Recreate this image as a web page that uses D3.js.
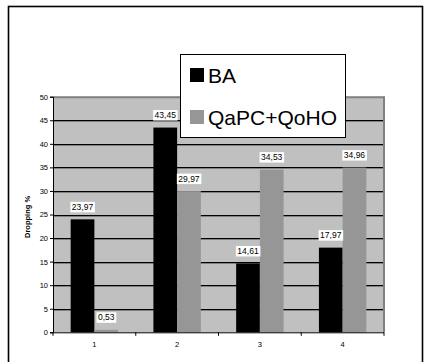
<!DOCTYPE html>
<html>
<head>
<meta charset="utf-8">
<script src="https://cdn.jsdelivr.net/npm/d3@7"></script>
<style>
  body { margin: 0; background: #fff; }
  text { font-family: "Liberation Sans", Arial, sans-serif; }
</style>
</head>
<body>
<svg width="429" height="362"></svg>
<script>
// data
const categories = ["1", "2", "3", "4"];
const seriesNames = ["BA", "QaPC+QoHO"];
const baValues = [23.97, 43.45, 14.61, 17.97];
const qapcValues = [0.53, 29.97, 34.53, 34.96];
const yTicks = [0, 5, 10, 15, 20, 25, 30, 35, 40, 45, 50];
const colors = ["#000000", "#969696"];

const svg = d3.select("svg"),
  width = +svg.attr("width"),
  height = +svg.attr("height");

const plot = { left: 53, right: 384, top: 96.7, bottom: 332.3 };

// outer frame (bottom edge runs off the picture)
svg.append("rect")
  .attr("x", 8.5).attr("y", 6.5)
  .attr("width", 414).attr("height", 370)
  .attr("fill", "none")
  .attr("stroke", "#000")
  .attr("stroke-width", 1.6);

const y = d3.scaleLinear().domain([0, 50]).range([plot.bottom, plot.top]);

const x0 = d3.scaleBand()
  .domain(categories)
  .range([plot.left, plot.right])
  .paddingInner(0.427)
  .paddingOuter(0.2135);

const x1 = d3.scaleBand()
  .domain(seriesNames)
  .range([0, x0.bandwidth()]);

// plot background
svg.append("rect")
  .attr("x", plot.left).attr("y", plot.top)
  .attr("width", plot.right - plot.left)
  .attr("height", plot.bottom - plot.top)
  .attr("fill", "#c0c0c0");

// gridlines (black line with grey shadow)
const grid = svg.append("g");
yTicks.filter(d => d > 0 && d < 50).forEach(d => {
  grid.append("line")
    .attr("x1", plot.left).attr("x2", plot.right)
    .attr("y1", Math.round(y(d)) + 0.5).attr("y2", Math.round(y(d)) + 0.5)
    .attr("stroke", "#000");
  grid.append("line")
    .attr("x1", plot.left).attr("x2", plot.right)
    .attr("y1", Math.round(y(d)) + 1.5).attr("y2", Math.round(y(d)) + 1.5)
    .attr("stroke", "#808080");
});

// top and right plot edges
svg.append("line")
  .attr("x1", plot.left).attr("x2", plot.right + 1)
  .attr("y1", plot.top + 0.5).attr("y2", plot.top + 0.5)
  .attr("stroke", "#808080").attr("stroke-width", 2);
svg.append("line")
  .attr("x1", plot.right).attr("x2", plot.right)
  .attr("y1", plot.top).attr("y2", plot.bottom)
  .attr("stroke", "#808080").attr("stroke-width", 2);

// bars
const rows = categories.map((c, i) => ({ cat: c, values: [baValues[i], qapcValues[i]] }));

const groups = svg.append("g").selectAll("g")
  .data(rows)
  .enter().append("g")
  .attr("transform", d => "translate(" + x0(d.cat) + ",0)");

groups.selectAll("rect")
  .data(d => d.values.map((v, j) => ({ name: seriesNames[j], value: v, j: j })))
  .enter().append("rect")
  .attr("x", d => x1(d.name))
  .attr("y", d => y(d.value))
  .attr("width", x1.bandwidth())
  .attr("height", d => y(0) - y(d.value))
  .attr("fill", d => colors[d.j]);

// axes
const yAxis = d3.axisLeft(y).tickValues(yTicks).tickSize(3).tickPadding(2);
const gy = svg.append("g")
  .attr("transform", "translate(" + plot.left + ",0)")
  .call(yAxis);
gy.select(".domain").attr("stroke", "#000");
gy.selectAll("text").style("font-size", "7.5px").attr("fill", "#000");

// x axis line + ticks at category boundaries
const boundaries = categories.map(c => x0(c) - x0.step() * 0.2135).concat([plot.right]);
svg.append("line")
  .attr("x1", plot.left).attr("x2", plot.right)
  .attr("y1", plot.bottom + 0.5).attr("y2", plot.bottom + 0.5)
  .attr("stroke", "#000");
svg.append("g").selectAll("line")
  .data(boundaries)
  .enter().append("line")
  .attr("x1", d => d).attr("x2", d => d)
  .attr("y1", plot.bottom).attr("y2", plot.bottom + 3.5)
  .attr("stroke", "#000");

svg.append("g").selectAll("text")
  .data(categories)
  .enter().append("text")
  .attr("x", d => x0(d) + x0.bandwidth() / 2)
  .attr("y", 347)
  .attr("text-anchor", "middle")
  .style("font-size", "7.5px")
  .text(d => d);

// y axis title
svg.append("text")
  .attr("transform", "translate(30,217) rotate(-90)")
  .attr("text-anchor", "middle")
  .style("font-size", "7.5px")
  .style("font-weight", "bold")
  .text("Dropping %");

// value labels
const labels = groups.selectAll("g.lab")
  .data(d => d.values.map((v, j) => ({ name: seriesNames[j], value: v })))
  .enter().append("g")
  .attr("class", "lab");

labels.each(function(d) {
  const g = d3.select(this);
  const cx = x1(d.name) + x1.bandwidth() / 2;
  const base = y(d.value) - 9.5;
  const t = g.append("text")
    .attr("x", cx)
    .attr("y", base)
    .attr("text-anchor", "middle")
    .style("font-size", "8.5px")
    .text(d.value.toFixed(2).replace(".", ","));
  const bb = t.node().getBBox();
  g.insert("rect", "text")
    .attr("x", bb.x - 1.5)
    .attr("y", base - 8)
    .attr("width", bb.width + 3)
    .attr("height", 10.5)
    .attr("fill", "#fff");
});

// legend
const legend = svg.append("g");
legend.append("rect")
  .attr("x", 180.5).attr("y", 54.5)
  .attr("width", 165).attr("height", 83)
  .attr("fill", "#fff")
  .attr("stroke", "#000");

const legendY = [68, 110];
seriesNames.forEach((name, i) => {
  legend.append("rect")
    .attr("x", 190).attr("y", legendY[i])
    .attr("width", 14).attr("height", 14)
    .attr("fill", colors[i]);
  legend.append("text")
    .attr("x", 208).attr("y", legendY[i] + 15)
    .style("font-size", "21px")
    .text(name);
});
</script>
</body>
</html>
